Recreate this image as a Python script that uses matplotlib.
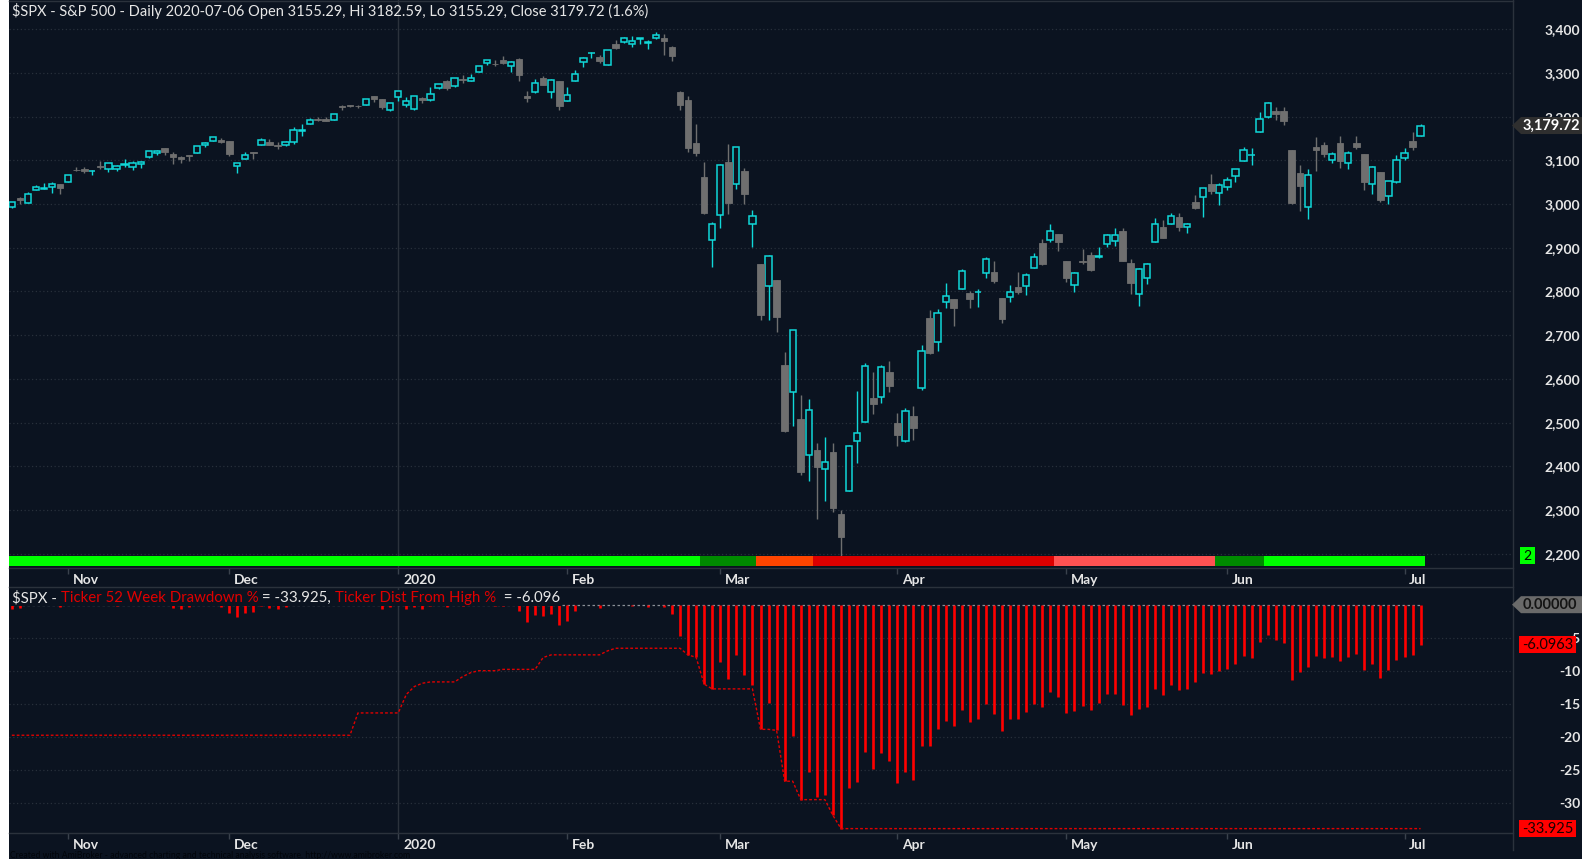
import matplotlib
matplotlib.use('Agg')
import matplotlib.pyplot as plt
import numpy as np
import pandas as pd
from matplotlib.patches import Rectangle, Polygon
from matplotlib.lines import Line2D
from matplotlib.transforms import ScaledTranslation
from matplotlib.ticker import FuncFormatter

plt.rcParams['font.family'] = ['Lato', 'DejaVu Sans']

# ---------------- data: $SPX daily, 2019-10-23 .. 2020-07-06 ----------------
holidays = ['2019-11-28', '2019-12-25', '2020-01-01', '2020-01-20',
            '2020-02-17', '2020-04-10', '2020-05-25', '2020-07-03']

opens = [
    2994.01, 3014.78, 3003.32, 3032.12, 3035.39, 3039.74, 3046.90,
    3050.72, 3078.96, 3080.80, 3075.10, 3087.02, 3081.25, 3080.33, 3089.28, 3084.18, 3090.75,
    3107.92, 3117.91, 3127.45, 3114.66, 3108.49, 3111.41, 3117.44, 3134.85, 3145.49, 3147.18,
    3143.85, 3087.41, 3103.50, 3119.21, 3134.62, 3141.86, 3135.36, 3135.75, 3141.23, 3166.65,
    3183.63, 3195.40, 3195.21, 3192.32, 3223.33, 3226.05, 3225.45, 3227.20, 3247.23, 3240.09, 3215.18,
    3244.67, 3226.36, 3217.55, 3241.86, 3238.59, 3266.03, 3281.81, 3271.13, 3285.35, 3282.27,
    3302.97, 3323.66, 3321.03, 3330.02, 3315.77, 3333.10, 3247.16, 3255.35, 3289.46, 3256.45, 3282.33,
    3235.66, 3280.61, 3324.91, 3344.92, 3335.54, 3318.28, 3365.87, 3370.50, 3365.90, 3378.08,
    3369.04, 3380.39, 3380.45, 3360.50, 3257.61, 3238.94, 3139.90, 3062.54, 2916.90,
    2974.28, 3096.46, 3045.75, 3075.70, 2954.20, 2863.89, 2813.48, 2825.60, 2630.86, 2569.99,
    2508.59, 2425.66, 2436.50, 2393.48, 2431.94, 2290.71, 2344.44, 2457.77, 2501.29, 2555.87, 2558.98, 2614.69,
    2498.08, 2458.54, 2514.92, 2578.28, 2738.65, 2685.00, 2776.99, 2782.46, 2805.10, 2795.64,
    2799.34, 2842.43, 2845.62, 2784.81, 2787.89, 2810.42, 2812.64, 2854.65, 2909.96, 2918.46, 2930.91,
    2869.09, 2815.01, 2868.88, 2883.14, 2878.26, 2908.83, 2915.46, 2939.50, 2865.86, 2794.54,
    2829.95, 2913.86, 2948.59, 2953.63, 2969.95, 2948.05, 3004.08, 3015.65, 3046.61, 3025.17,
    3038.78, 3064.78, 3098.90, 3111.56, 3163.84, 3199.92, 3213.32, 3213.42, 3123.53, 3071.04, 2993.76,
    3131.00, 3136.13, 3101.64, 3140.29, 3094.42, 3138.70, 3114.40, 3046.60, 3073.20, 3018.59, 3050.20,
    3105.92, 3143.64, 3155.29]

highs = [
    3004.78, 3016.07, 3027.39, 3044.08, 3047.87, 3050.10, 3046.90,
    3066.95, 3085.20, 3083.95, 3078.34, 3097.77, 3093.09, 3088.33, 3102.61, 3098.06, 3098.20,
    3120.46, 3124.17, 3127.64, 3118.97, 3110.11, 3112.87, 3133.83, 3142.69, 3154.26, 3150.30,
    3144.31, 3094.97, 3119.38, 3119.45, 3150.60, 3148.87, 3142.12, 3143.98, 3176.28, 3182.68,
    3197.71, 3198.22, 3198.48, 3205.48, 3225.65, 3227.78, 3226.43, 3240.08, 3247.93, 3240.92, 3231.72,
    3258.14, 3246.15, 3246.84, 3244.91, 3267.07, 3275.58, 3282.99, 3288.13, 3294.25, 3298.66,
    3317.11, 3329.88, 3329.79, 3337.77, 3326.88, 3333.18, 3258.85, 3285.78, 3293.47, 3285.91, 3282.33,
    3268.44, 3306.92, 3337.58, 3347.96, 3341.42, 3352.26, 3375.63, 3381.47, 3385.09, 3380.69,
    3375.01, 3393.52, 3389.15, 3360.76, 3259.81, 3246.99, 3182.51, 3097.07, 2959.72,
    3090.96, 3136.72, 3130.97, 3083.04, 2985.93, 2863.89, 2882.59, 2825.60, 2660.95, 2711.33,
    2562.98, 2553.93, 2453.57, 2466.97, 2453.01, 2300.73, 2449.71, 2571.42, 2637.01, 2615.91, 2631.80, 2641.39,
    2522.75, 2533.22, 2538.18, 2676.85, 2756.89, 2760.75, 2818.57, 2782.46, 2851.85, 2801.88,
    2806.51, 2879.22, 2868.98, 2785.54, 2815.10, 2844.90, 2842.71, 2887.72, 2921.15, 2954.86, 2930.91,
    2869.09, 2844.24, 2898.23, 2891.11, 2901.92, 2932.16, 2944.25, 2945.82, 2874.14, 2852.80,
    2865.01, 2968.09, 2964.21, 2980.29, 2978.50, 2956.76, 3021.72, 3036.25, 3068.67, 3049.17,
    3062.18, 3081.07, 3130.94, 3128.91, 3211.72, 3233.13, 3222.71, 3223.27, 3123.53, 3088.42, 3079.76,
    3153.45, 3141.16, 3120.00, 3155.53, 3120.92, 3154.90, 3115.01, 3086.25, 3073.73, 3053.89, 3111.51,
    3128.44, 3165.81, 3182.59]

lows = [
    2991.21, 3000.42, 3001.94, 3032.12, 3034.81, 3025.96, 3023.19,
    3050.72, 3074.87, 3072.15, 3065.89, 3080.23, 3073.58, 3075.82, 3084.73, 3078.80, 3083.26,
    3104.60, 3112.06, 3113.47, 3091.41, 3094.55, 3099.26, 3117.44, 3131.00, 3143.41, 3139.34,
    3110.78, 3070.33, 3102.53, 3103.76, 3134.62, 3135.46, 3126.09, 3133.21, 3138.47, 3156.51,
    3183.63, 3191.03, 3191.14, 3192.32, 3216.03, 3222.30, 3220.51, 3227.20, 3234.37, 3216.57, 3212.03,
    3235.53, 3222.34, 3214.64, 3232.43, 3236.67, 3263.67, 3260.86, 3268.43, 3277.19, 3280.69,
    3302.82, 3318.86, 3316.61, 3320.04, 3301.87, 3281.53, 3234.50, 3253.22, 3271.89, 3242.80, 3214.68,
    3235.66, 3280.61, 3313.75, 3334.39, 3322.12, 3317.77, 3355.61, 3369.72, 3360.52, 3366.15,
    3355.61, 3378.83, 3341.02, 3328.45, 3214.65, 3118.77, 3108.99, 2977.39, 2855.84,
    2945.19, 2976.63, 3034.38, 2999.83, 2901.54, 2734.43, 2734.00, 2707.22, 2478.86, 2492.37,
    2380.94, 2367.04, 2280.52, 2319.78, 2295.56, 2191.86, 2344.44, 2407.53, 2500.72, 2520.02, 2545.28, 2571.15,
    2447.49, 2455.79, 2459.96, 2574.57, 2657.67, 2663.30, 2762.36, 2721.17, 2805.10, 2761.54,
    2764.32, 2830.88, 2820.43, 2727.10, 2775.95, 2794.26, 2791.76, 2852.89, 2860.71, 2912.16, 2892.47,
    2821.61, 2797.85, 2863.55, 2847.65, 2876.48, 2902.88, 2903.44, 2869.59, 2793.15, 2766.64,
    2816.78, 2913.86, 2922.35, 2953.63, 2938.57, 2933.59, 2988.17, 2969.75, 3023.40, 2998.61,
    3031.54, 3051.64, 3098.90, 3090.41, 3163.84, 3196.00, 3193.11, 3181.49, 2999.49, 2984.47, 2965.66,
    3076.06, 3108.03, 3093.51, 3083.11, 3079.39, 3127.12, 3032.13, 3024.01, 3004.63, 2999.74, 3047.83,
    3101.17, 3124.52, 3155.29]

closes = [
    3004.52, 3010.29, 3022.55, 3039.42, 3036.89, 3046.77, 3037.56,
    3066.91, 3078.27, 3074.62, 3076.78, 3085.18, 3093.08, 3087.01, 3091.84, 3094.04, 3096.63,
    3120.46, 3122.03, 3120.18, 3108.46, 3103.54, 3110.29, 3133.64, 3140.52, 3153.63, 3140.98,
    3113.87, 3093.20, 3112.76, 3117.43, 3145.91, 3135.96, 3132.52, 3141.63, 3168.57, 3168.80,
    3191.45, 3192.52, 3191.14, 3205.37, 3221.22, 3224.01, 3223.38, 3239.91, 3240.02, 3221.29, 3230.78,
    3257.85, 3234.85, 3246.28, 3237.18, 3253.05, 3274.70, 3265.35, 3288.13, 3283.15, 3289.29,
    3316.81, 3329.62, 3320.79, 3321.75, 3325.54, 3295.47, 3243.63, 3276.24, 3273.40, 3283.66, 3225.52,
    3248.92, 3297.59, 3334.69, 3345.78, 3327.71, 3352.09, 3357.75, 3379.45, 3373.94, 3380.16,
    3370.29, 3386.15, 3373.23, 3337.75, 3225.89, 3128.21, 3116.39, 2978.76, 2954.22,
    3090.23, 3003.37, 3130.12, 3023.94, 2972.37, 2746.56, 2882.23, 2741.38, 2480.64, 2711.02,
    2386.13, 2529.19, 2398.10, 2409.39, 2304.92, 2237.40, 2447.33, 2475.56, 2630.07, 2541.47, 2626.65, 2584.59,
    2470.50, 2526.90, 2488.65, 2663.68, 2659.41, 2749.98, 2789.82, 2761.63, 2846.06, 2783.36,
    2799.55, 2874.56, 2823.16, 2736.56, 2799.31, 2797.80, 2836.74, 2878.48, 2863.39, 2939.51, 2912.43,
    2830.71, 2842.74, 2868.44, 2848.42, 2881.19, 2929.80, 2930.19, 2870.12, 2820.00, 2852.50,
    2863.70, 2953.91, 2922.94, 2971.61, 2948.51, 2955.45, 2991.77, 3036.13, 3029.73, 3044.31,
    3055.73, 3080.82, 3122.87, 3112.35, 3193.93, 3232.39, 3207.18, 3190.14, 3002.10, 3041.31, 3066.59,
    3124.74, 3113.49, 3115.34, 3097.74, 3117.86, 3131.29, 3050.33, 3083.76, 3009.05, 3053.24, 3100.29,
    3115.86, 3130.01, 3179.72]

prior_high = 3025.86   # 52-week high close before the window

# 52-week drawdown carried over from the 2018 selloff
dd_prior_days = [43, 6, 1, 1, 1, 4, 1, 1, 3, 5, 1, 7, 1, 101]
dd_prior_vals = [-19.78, -16.4, -13.6, -12.4, -11.9, -11.7, -10.9, -10.3, -10.0,
                 -9.8, -8.0, -7.6, -7.0, -6.6]

# regime colour band under the price panel
band_days = [86, 7, 7, 30, 20, 6, 20]
band_colors = ['#00ff00', '#008a00', '#ff4500', '#dc0000', '#ff5252', '#008a00', '#00ff00']

# ---------------- derived ----------------
dates = pd.bdate_range('2019-10-23', '2020-07-06')
dates = dates[~dates.isin(pd.to_datetime(holidays))]
o = np.array(opens); h = np.array(highs); l = np.array(lows); c = np.array(closes)
n = len(c)
x = np.arange(n)

run_high = np.maximum.accumulate(np.maximum(c, prior_high))
dist = (c / run_high - 1) * 100
dd_prior = np.repeat(dd_prior_vals, dd_prior_days)
dd52 = np.minimum(dd_prior, np.minimum.accumulate(dist))

# ---------------- layout ----------------
W, H = 1591, 859
BG = '#0b1320'
TXT = '#e6e6e6'
CYAN = '#10d8d8'
GRAY = '#6f6f6f'
GRID = '#28303b'
LINE = '#2b323c'
RED = '#ff0000'
WT = 'bold'


def fx(px):
    return px / W


def fy(py):
    return 1 - py / H


fig = plt.figure(figsize=(W / 100, H / 100), dpi=100, facecolor='white')
fig.add_artist(Rectangle((fx(9), 0), fx(1582) - fx(9), 1, transform=fig.transFigure,
                         facecolor=BG, edgecolor='none', zorder=-10))

L, R = 9, 1513
ax1 = fig.add_axes([fx(L), fy(568), fx(R) - fx(L), fy(0) - fy(568)])
ax2 = fig.add_axes([fx(L), fy(833), fx(R) - fx(L), fy(587) - fy(833)])

x0, step = 11.85, 8.05
xlim = ((L - x0) / step, (R - x0) / step)

for ax in (ax1, ax2):
    ax.set_facecolor(BG)
    ax.set_xlim(*xlim)
    for s in ax.spines.values():
        s.set_visible(False)

# ---- price panel ----
ax1.set_ylim(2167.3, 3467.0)
up = c >= o
bot = np.minimum(o, c)
hgt = np.abs(c - o)
ax1.vlines(x[up], l[up], h[up], color=CYAN, lw=1.0, zorder=3)
ax1.vlines(x[~up], l[~up], h[~up], color=GRAY, lw=1.0, zorder=3)
ax1.bar(x[up], hgt[up], bottom=bot[up], width=0.78, facecolor=BG, edgecolor=CYAN,
        linewidth=1.1, zorder=4)
ax1.bar(x[~up], hgt[~up], bottom=bot[~up], width=0.82, facecolor=GRAY, edgecolor=GRAY,
        linewidth=0.6, zorder=4)

starts = np.concatenate([[0], np.cumsum(band_days)[:-1]])
ax1.broken_barh([(s - 0.5, d) for s, d in zip(starts, band_days)], (2 / 568, 10 / 568),
                facecolors=band_colors, transform=ax1.get_xaxis_transform(), zorder=5)

ax1.set_yticks(np.arange(2200, 3401, 100))
ax1.yaxis.set_major_formatter(FuncFormatter(lambda v, p: f'{v:,.0f}'))
ax1.grid(axis='y', color=GRID, linestyle=(0, (1, 2)), lw=0.9)

# ---- drawdown panel ----
ax2.set_ylim(-34.59, 2.68)
ax2.plot([0, n - 1], [0, 0], color='#8a8f96', lw=0.9, linestyle=(0, (2, 2)), zorder=2)
ax2.vlines(x, dist, 0, color=RED, lw=1.9, zorder=3)
ax2.plot(x, dd52, color='#e00000', lw=1.0, linestyle=(0, (2, 1.5)), zorder=4)
ax2.set_yticks(np.arange(-30, 0, 5))
ax2.yaxis.set_major_formatter(FuncFormatter(lambda v, p: f'{v:.0f}'))
ax2.grid(axis='y', color=GRID, linestyle=(0, (1, 2)), lw=0.9)

# month ticks
month_first = [i for i in range(1, n) if dates[i].month != dates[i - 1].month]
month_lbl = [str(dates[i].year) if dates[i].month == 1 else dates[i].strftime('%b') for i in month_first]
jan_idx = month_first[month_lbl.index('2020')]

for ax in (ax1, ax2):
    ax.axvline(jan_idx, color=LINE, lw=1.0, zorder=1)
    ax.set_xticks(month_first)
    ax.set_xticklabels(month_lbl)
    ax.tick_params(axis='x', length=4, width=1, color='#3a424d', pad=0,
                   labelsize=10, labelcolor=TXT)
    ax.yaxis.tick_right()
    ax.tick_params(axis='y', length=0, pad=48.5, labelsize=10, labelcolor=TXT)
    for lb in ax.get_yticklabels():
        lb.set_ha('right')
        lb.set_fontweight(WT)
    off = ScaledTranslation(3.4 / 72, 0, fig.dpi_scale_trans)
    for lb in ax.get_xticklabels():
        lb.set_ha('left')
        lb.set_fontweight(WT)
        lb.set_transform(lb.get_transform() + off)

# frame lines
for yy in (0.5, 568, 587, 833):
    fig.add_artist(Line2D([fx(L), fx(R)], [fy(yy), fy(yy)], color=LINE, lw=1.0,
                          transform=fig.transFigure))
fig.add_artist(Line2D([fx(R), fx(R)], [fy(0), fy(850)], color=LINE, lw=1.0,
                      transform=fig.transFigure))

# ---- header texts ----
chg = (c[-1] / c[-2] - 1) * 100
fig.text(fx(12), fy(11), f"$SPX - S&P 500 - Daily {dates[-1]:%Y-%m-%d} Open {o[-1]:.2f}, "
         f"Hi {h[-1]:.2f}, Lo {l[-1]:.2f}, Close {c[-1]:.2f} ({chg:.1f}%)",
         color=TXT, fontsize=10.5, va='center', ha='left')

renderer = fig.canvas.get_renderer()
parts = [('$SPX - ', TXT), ('Ticker 52 Week Drawdown %', '#e00000'),
         (f' = {dd52[-1]:.3f}, ', TXT), ('Ticker Dist From High %', '#e00000'),
         (f'  = {dist[-1]:.3f}', TXT)]
xx = 12
for s, col in parts:
    t = fig.text(fx(xx), fy(598), s, color=col, fontsize=10.8, va='center', ha='left', zorder=6)
    xx += t.get_window_extent(renderer).width
fig.add_artist(Rectangle((fx(10), fy(606)), fx(xx + 2) - fx(10), fy(590) - fy(606),
                         transform=fig.transFigure, facecolor=BG, edgecolor='none', zorder=5))

fig.text(fx(10), fy(855), 'Created with AmiBroker - advanced charting and technical analysis '
         'software. http://www.amibroker.com', color='#02050a', fontsize=6.2, va='center')


# ---- value tags on the right axis ----
def ypix(ax, v):
    return H - ax.transData.transform((0, v))[1]


def tag(yc, text, face, tcol, arrow=True, x1=1519, x2=1582, center=False):
    top, bt = yc - 8.5, yc + 8.5
    if arrow:
        pts = [(1512, yc), (1521, top), (x2, top), (x2, bt), (1521, bt)]
    else:
        pts = [(x1, top), (x2, top), (x2, bt), (x1, bt)]
    fig.add_artist(Polygon([(fx(a), fy(b)) for a, b in pts], closed=True,
                           transform=fig.transFigure, facecolor=face, edgecolor='none', zorder=7))
    if center:
        fig.text(fx((x1 + x2) / 2), fy(yc), text, color=tcol, fontsize=10.5, va='center',
                 ha='center', zorder=8)
    else:
        fig.text(fx(1523), fy(yc), text, color=tcol, fontsize=10.5, va='center',
                 ha='left', zorder=8, fontweight=WT)


tag(ypix(ax1, c[-1]), f'{c[-1]:,.2f}', '#2f2f2f', '#ffffff')
tag(ypix(ax2, 0), '0.00000', '#6a6a6a', '#141414')
tag(ypix(ax2, dist[-1]), f'{dist[-1]:.4f}', '#ff0000', '#1a0000', arrow=False, x2=1576, center=True)
tag(ypix(ax2, dd52.min()), f'{dd52.min():.3f}', '#ff0000', '#1a0000', arrow=False, x2=1576, center=True)

yb = ypix(ax1, 2200) + 2
fig.add_artist(Rectangle((fx(1520), fy(yb + 8.5)), fx(1535) - fx(1520), fy(yb - 8.5) - fy(yb + 8.5),
                         transform=fig.transFigure, facecolor='#00ff00', edgecolor='none', zorder=7))
fig.text(fx(1527.5), fy(yb), '2', color='#000000', fontsize=10, ha='center', va='center', zorder=8)

fig.savefig('out.png', dpi=100, facecolor='white')
